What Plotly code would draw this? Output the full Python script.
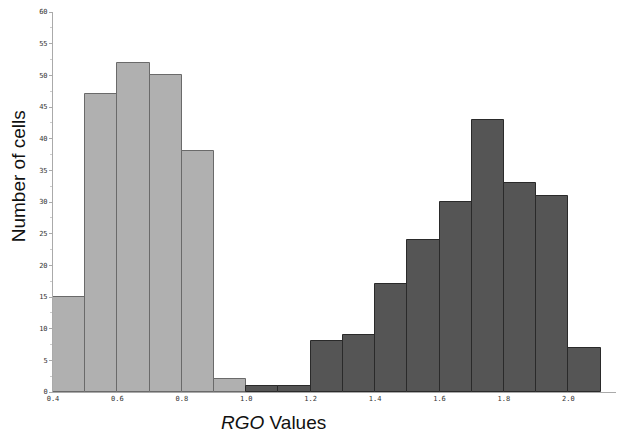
import plotly.graph_objects as go

bin_start_light = [0.4, 0.5, 0.6, 0.7, 0.8, 0.9]
counts_light = [15, 47, 52, 50, 38, 2]
bin_start_dark = [1.0, 1.1, 1.2, 1.3, 1.4, 1.5, 1.6, 1.7, 1.8, 1.9, 2.0]
counts_dark = [1, 1, 8, 9, 17, 24, 30, 43, 33, 31, 7]
x_ticks = [0.4, 0.6, 0.8, 1.0, 1.2, 1.4, 1.6, 1.8, 2.0]
x_tick_text = ["0.4", "0.6", "0.8", "1.0", "1.2", "1.4", "1.6", "1.8", "2.0"]
bin_width = 0.1

fig = go.Figure()
fig.add_trace(go.Bar(x=bin_start_light, y=counts_light, width=bin_width, offset=0,
                     marker=dict(color="#b0b0b0", line=dict(color="#6a6a6a", width=1))))
fig.add_trace(go.Bar(x=bin_start_dark, y=counts_dark, width=bin_width, offset=0,
                     marker=dict(color="#555555", line=dict(color="#2a2a2a", width=1))))

tickfont = dict(family="DejaVu Sans Mono", size=7, color="#333333")
fig.update_layout(
    width=624, height=437,
    margin=dict(l=53, r=8, t=8, b=45),
    plot_bgcolor="white", paper_bgcolor="white",
    showlegend=False, bargap=0,
    xaxis=dict(range=[0.4, 2.148], tickvals=x_ticks, ticktext=x_tick_text,
               showgrid=False, zeroline=False, showline=True, linecolor="#aaaaaa",
               ticks="", tickfont=tickfont),
    yaxis=dict(range=[0, 60], dtick=5, showgrid=False, zeroline=False,
               showline=True, linecolor="#aaaaaa", ticks="outside", ticklen=3,
               tickcolor="#aaaaaa", tickfont=tickfont,
               minor=dict(dtick=2.5, ticks="outside", ticklen=2, tickcolor="#cccccc")),
    annotations=[
        dict(text="<i>RGO</i> Values", xref="paper", yref="paper",
             x=(273 - 53) / 563, y=-(423 - 392) / 384, xanchor="center", yanchor="middle",
             showarrow=False, font=dict(family="Liberation Sans", size=19, color="#111111")),
        dict(text="Number of cells", xref="paper", yref="paper",
             x=(18 - 53) / 563, y=(392 - 174) / 384, xanchor="center", yanchor="middle",
             textangle=-90, showarrow=False,
             font=dict(family="Liberation Sans", size=19, color="#111111")),
    ],
)
fig.write_html("out.html", config={"displayModeBar": False},
               post_script="document.body.style.margin='0';document.body.style.overflow='hidden';")
